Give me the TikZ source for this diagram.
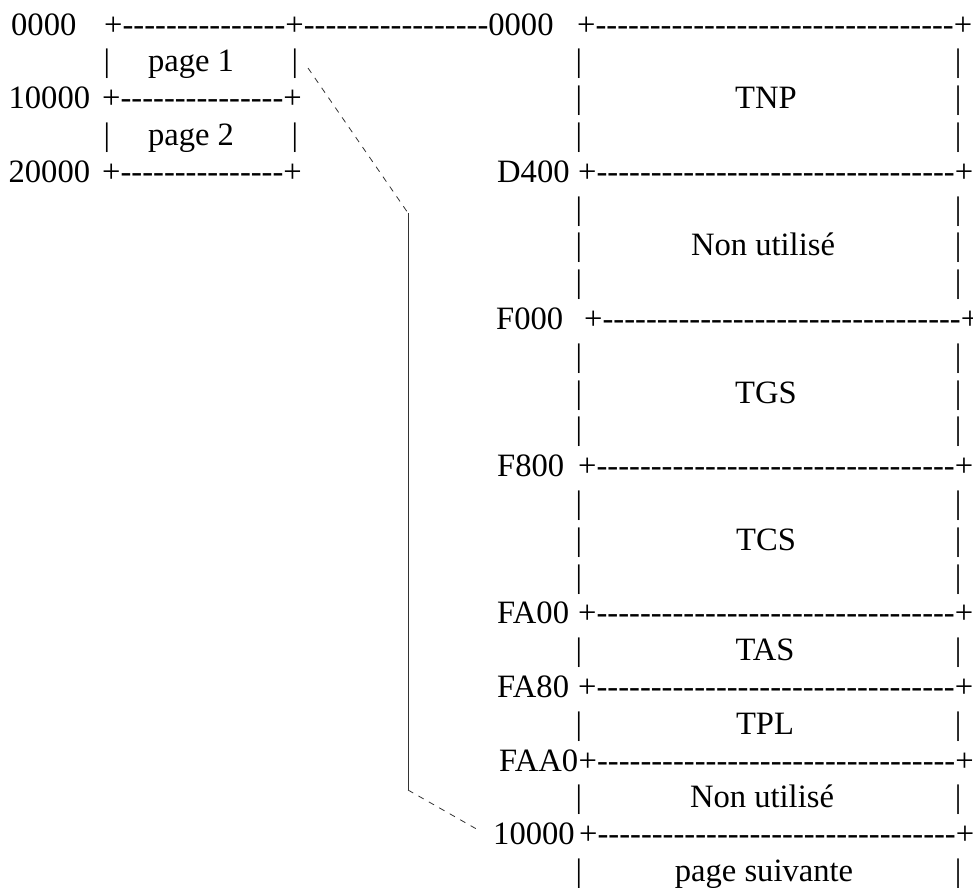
\documentclass[tikz,border=0pt]{standalone}
\usepackage{fontspec}
\newfontfamily\asciifont{Liberation Serif}
\usetikzlibrary{positioning}
\tikzstyle{txt}=[inner sep=0pt,anchor=base west,font=\asciifont\fontsize{32.6}{36}\selectfont]
\tikzstyle{ctxt}=[txt,anchor=base]
\tikzstyle{zoomline}=[line width=0.8pt,black!80]
\tikzstyle{zoomdash}=[zoomline,dash pattern=on 6pt off 6pt]
\newcommand\hl[1]{\foreach \k in {1,...,#1}{-\kern0pt}}

\begin{document}
\begin{tikzpicture}[x=1pt,y=-1pt]
		\useasboundingbox (0,0) rectangle (973,887);
		% pages on the left
		\node at (11,35) [txt] (a0) {0000};
		\node at (104,35) [txt] (l0) {+\hl{15}+\hl{17}0000};
		\node at (577,35) [txt] (r0) {+\hl{33}+};
		\node at (107,71.8) [ctxt] (p1l) {|};
		\node at (191,71.8) [ctxt] (p1) {page 1};
		\node at (295,71.8) [ctxt] (p1r) {|};
		\node at (8.4,108.6) [txt] (a1) {10000};
		\node at (102,108.6) [txt] (l1) {+\hl{15}+};
		\node at (107,145.4) [ctxt] (p2l) {|};
		\node at (191,145.4) [ctxt] (p2) {page 2};
		\node at (295,145.4) [ctxt] (p2r) {|};
		\node at (8.4,182.2) [txt] (a2) {20000};
		\node at (102,182.2) [txt] (l2) {+\hl{15}+};
		% page map on the right
		\node at (497,182.2) [txt] (aD4) {D400};
		\node at (578,182.2) [txt] (r4) {+\hl{33}+};
		\node at (496,329.4) [txt] (aF0) {F000};
		\node at (584,329.4) [txt] (r8) {+\hl{33}+};
		\node at (497,476.6) [txt] (aF8) {F800};
		\node at (578,476.6) [txt] (r12) {+\hl{33}+};
		\node at (497,623.8) [txt] (aFA0) {FA00};
		\node at (578,623.8) [txt] (r16) {+\hl{33}+};
		\node at (497,697.4) [txt] (aFA8) {FA80};
		\node at (578,697.4) [txt] (r18) {+\hl{33}+};
		\node at (499,771) [txt] (aFAA) {FAA0};
		\node at (aFAA.base east) [txt] (r20) {+\hl{33}+};
		\node at (493,844.6) [txt] (aNext) {10000};
		\node at (579,844.6) [txt] (r22) {+\hl{33}+};
		\foreach \r in {1,2,3,5,6,7,9,10,11,13,14,15,17,19,21,23} {
			\pgfmathsetmacro\yy{35+36.8*\r}
			\node at (579,\yy) [ctxt] (bl\r) {|};
			\node at (958,\yy) [ctxt] (br\r) {|};
		}
		\node at (766,108.6) [ctxt] (tnp) {TNP};
		\node at (763,255.8) [ctxt] (free1) {Non utilisé};
		\node at (766,403) [ctxt] (tgs) {TGS};
		\node at (766,550.2) [ctxt] (tcs) {TCS};
		\node at (765,660.6) [ctxt] (tas) {TAS};
		\node at (765,734.2) [ctxt] (tpl) {TPL};
		\node at (762,807.8) [ctxt] (free2) {Non utilisé};
		\node at (764,881.4) [ctxt] (nextpg) {page suivante};
		% zoom of page 1
		\coordinate (zs) at (308,68);
		\coordinate (zt) at (408,213);
		\coordinate (zb) at (408,790);
		\coordinate (ze) at (480,831);
		\draw [zoomdash] (zs) -- (zt);
		\draw [zoomline] (zt) -- (zb);
		\draw [zoomdash] (zb) -- (ze);
\end{tikzpicture}
\end{document}
